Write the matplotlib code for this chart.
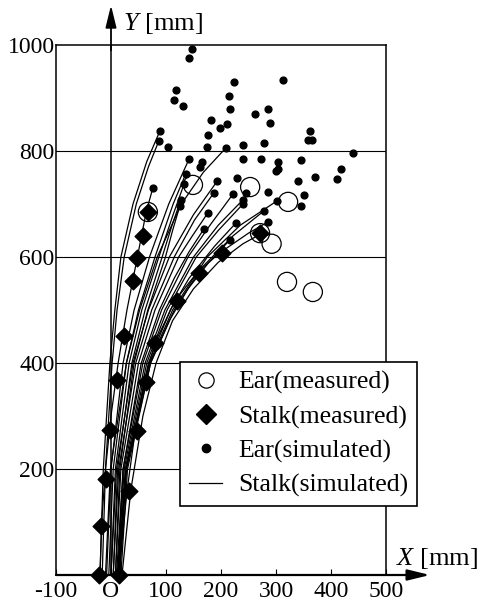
import matplotlib.pyplot as plt
from matplotlib.lines import Line2D

plt.rcParams['font.family'] = ['Liberation Serif', 'DejaVu Serif']
plt.rcParams['mathtext.fontset'] = 'custom'
plt.rcParams['mathtext.it'] = 'Liberation Serif:italic'
plt.rcParams['mathtext.rm'] = 'Liberation Serif'

# ear positions measured (open circles)
ear_meas_x = [149, 253, 322, 67, 271, 292, 320, 367]
ear_meas_y = [736, 732, 704, 685, 645, 625, 553, 534]

# stalk measured (diamonds), two stalks
stalk_meas_x = [-21, -19, -10, -2, 11, 24, 40, 47, 58, 67,
                14, 33, 48, 63, 80, 120, 160, 201, 271]
stalk_meas_y = [0, 92, 181, 274, 368, 451, 555, 598, 640, 685,
                0, 158, 272, 364, 438, 517, 570, 608, 645]

# ear positions simulated (small dots)
ear_sim_x = [147, 142, 118, 115, 131, 224, 215, 216, 313, 182, 198, 211, 262, 286, 289,
             176, 175, 209, 240, 278, 362, 358, 366, 440, 89, 87, 104, 142, 240, 273,
             304, 346, 418, 166, 162, 136, 133, 193, 229, 300, 304, 340, 371, 411, 76,
             187, 222, 246, 286, 351, 127, 125, 240, 240, 302, 346, 176, 278, 169, 227,
             286, 216]
ear_sim_y = [992, 975, 915, 896, 885, 930, 904, 879, 934, 858, 843, 851, 870, 879, 853,
             830, 808, 806, 811, 815, 838, 821, 821, 796, 838, 819, 808, 785, 785, 785,
             779, 783, 766, 779, 770, 757, 738, 743, 749, 762, 766, 743, 751, 747, 730,
             721, 719, 721, 723, 717, 708, 696, 708, 700, 706, 696, 683, 687, 653, 664,
             666, 632]

# simulated stalk curves
stalk_sim_x = [
    [-20, -14, -2, 7, 18, 40, 65, 89],
    [-16, -10, 2, 11, 24, 46, 68, 87],
    [-20, -17, -10, 0, 13, 29, 48, 64, 76],
    [-8, 0, 22, 42, 70, 105, 142],
    [-4, 4, 28, 50, 80, 113, 136],
    [0, 8, 33, 56, 87, 113, 133],
    [4, 12, 38, 62, 93, 111, 127],
    [8, 16, 42, 67, 99, 112, 125],
    [-10, -1, 28, 52, 84, 128, 168, 209],
    [0, 10, 40, 68, 106, 150, 193],
    [4, 14, 45, 74, 115, 152, 187],
    [8, 18, 50, 80, 123, 148, 176],
    [12, 22, 55, 88, 115, 142, 169],
    [10, 22, 58, 92, 140, 180, 222],
    [12, 24, 62, 98, 150, 195, 240],
    [14, 26, 65, 102, 155, 195, 240],
    [16, 28, 68, 108, 142, 188, 227],
    [18, 30, 72, 106, 140, 178, 216],
    [14, 28, 72, 115, 165, 222, 278],
    [12, 27, 70, 112, 175, 235, 302],
    [14, 29, 44, 60, 80, 116, 156, 198, 250, 285],
    [20, 36, 58, 82, 112, 150, 195, 240, 275],
]
stalk_sim_y = [
    [0, 200, 400, 500, 600, 700, 780, 838],
    [0, 200, 400, 500, 600, 700, 770, 819],
    [0, 100, 200, 300, 400, 500, 600, 685, 730],
    [0, 200, 400, 500, 600, 700, 785],
    [0, 200, 400, 500, 600, 700, 757],
    [0, 200, 400, 500, 600, 680, 738],
    [0, 200, 400, 500, 600, 660, 708],
    [0, 200, 400, 500, 600, 650, 696],
    [0, 200, 400, 500, 600, 700, 760, 806],
    [0, 200, 400, 500, 600, 680, 743],
    [0, 200, 400, 500, 600, 670, 721],
    [0, 200, 400, 500, 600, 640, 683],
    [0, 200, 400, 500, 560, 610, 653],
    [0, 200, 400, 500, 600, 660, 719],
    [0, 200, 400, 500, 600, 660, 708],
    [0, 200, 400, 500, 600, 650, 700],
    [0, 200, 400, 500, 560, 620, 664],
    [0, 200, 400, 480, 540, 590, 632],
    [0, 200, 400, 500, 580, 640, 687],
    [0, 200, 400, 500, 600, 660, 706],
    [0, 158, 272, 364, 438, 517, 570, 608, 645, 666],
    [0, 160, 300, 400, 480, 540, 590, 625, 645],
]

xticks = [-100, 0, 100, 200, 300, 400, 500]
xtick_labels = ['-100', 'O', '100', '200', '300', '400', '500']
yticks = [200, 400, 600, 800, 1000]

fig = plt.figure(figsize=(4.81, 6.09), dpi=100)
ax = fig.add_axes([56 / 481, 34 / 609, 330 / 481, 530 / 609])
ax.set_xlim(-100, 500)
ax.set_ylim(0, 1000)

for yv in yticks[:-1]:
    ax.axhline(yv, color='black', lw=0.8, zorder=1)
ax.axvline(0, color='black', lw=1.1, zorder=1)

for xs, ys in zip(stalk_sim_x, stalk_sim_y):
    ax.plot(xs, ys, color='black', lw=0.9, zorder=2)

ax.scatter(ear_sim_x, ear_sim_y, s=24, color='black', zorder=3)
ax.scatter(stalk_meas_x, stalk_meas_y, s=72, marker='D', color='black', zorder=4,
           clip_on=False)
ax.scatter(ear_meas_x, ear_meas_y, s=190, marker='o', facecolor='none',
           edgecolor='black', linewidths=0.9, zorder=5)

# axes with arrows
ax.annotate('', xy=(580, 0), xytext=(-100, 0), annotation_clip=False,
            arrowprops=dict(arrowstyle='-|>,head_length=0.9,head_width=0.22',
                            color='black', lw=1.6, shrinkA=0, shrinkB=0,
                            mutation_scale=15))
ax.annotate('', xy=(0, 1075), xytext=(0, 990), annotation_clip=False,
            arrowprops=dict(arrowstyle='-|>,head_length=0.9,head_width=0.22',
                            color='black', lw=1.3, shrinkA=0, shrinkB=0,
                            mutation_scale=15))

ax.text(22, 1040, r'$\mathit{Y}$ [mm]', fontsize=19, ha='left', va='center')
ax.text(518, 32, r'$\mathit{X}$ [mm]', fontsize=19, ha='left', va='center')

ax.spines['bottom'].set_visible(False)
for side in ['left', 'right', 'top']:
    ax.spines[side].set_linewidth(1.1)

ax.set_xticks(xticks)
ax.set_xticklabels(xtick_labels)
ax.set_yticks(yticks)
ax.tick_params(axis='x', direction='in', length=4, width=0.8, pad=4, labelsize=17)
ax.tick_params(axis='y', length=0, pad=1, labelsize=17)

handles = [
    Line2D([], [], ls='none', marker='o', ms=11, mfc='none', mec='black', mew=0.9),
    Line2D([], [], ls='none', marker='D', ms=10, color='black'),
    Line2D([], [], ls='none', marker='o', ms=6, color='black'),
    Line2D([], [], color='black', lw=0.9),
]
labels = ['Ear(measured)', 'Stalk(measured)', 'Ear(simulated)', 'Stalk(simulated)']
leg = fig.legend(handles, labels, loc='upper left', bbox_to_anchor=(180 / 481, 1 - 362 / 609),
                 fontsize=18.5, frameon=True, fancybox=False, edgecolor='black',
                 framealpha=1, handlelength=1.3, handletextpad=0.6, borderpad=0.35,
                 labelspacing=0.42, borderaxespad=0)
leg.get_frame().set_linewidth(1.2)
leg.set_zorder(10)

fig.savefig('out.png', dpi=100)
